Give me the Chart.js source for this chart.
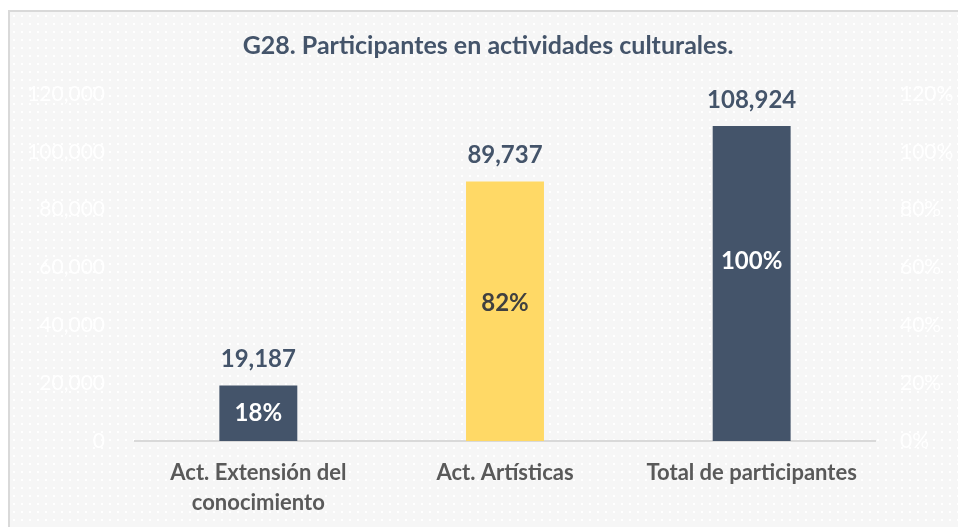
<!DOCTYPE html>
<html>
<head>
<meta charset="utf-8">
<script src="https://cdn.jsdelivr.net/npm/chart.js@4/dist/chart.umd.min.js"></script>
<style>
    html, body { margin: 0; padding: 0; background: #ffffff; }
    #frame {
        position: absolute; left: 8px; top: 10px; width: 960px; height: 530px;
        border: 2px solid #d9d9d9;
        background-color: #f6f6f6;
        background-image: radial-gradient(#ffffff 1px, transparent 1.2px);
        background-size: 8px 8px;
    }
    #wrap { position: absolute; left: 0; top: 0; width: 958px; height: 527px; }
</style>
</head>
<body>
<div id="frame"></div>
<div id="wrap"><canvas id="chart"></canvas></div>
<script>
const categories = [['Act. Extensión del', 'conocimiento'], 'Act. Artísticas', 'Total de participantes'];
const participants = [19187, 89737, 108924];
const shares = ['18%', '82%', '100%'];
const barColors = ['#44546a', '#ffd966', '#44546a'];
const leftTicks = [0, 20000, 40000, 60000, 80000, 100000, 120000];
const rightTicks = [0, 0.2, 0.4, 0.6, 0.8, 1.0, 1.2];

const FONT = 'Lato, "Open Sans", sans-serif';
// share labels sit a bit above the middle of the taller bars, as in the original
const shareLift = [0, 8, 22];

// Title, value labels above bars and shares inside them
const labelPlugin = {
    id: 'labels',
    afterDatasetsDraw(chart) {
        const ctx = chart.ctx;
        ctx.save();
        ctx.textAlign = 'center';
        ctx.textBaseline = 'middle';
        ctx.fillStyle = '#44546a';
        ctx.font = 'bold 25px ' + FONT;
        ctx.fillText('G28. Participantes en actividades culturales.', 488, 46);

        const meta = chart.getDatasetMeta(0);
        meta.data.forEach((bar, i) => {
            ctx.font = 'bold 24px ' + FONT;
            ctx.fillStyle = '#44546a';
            ctx.fillText(participants[i].toLocaleString('en-US'), bar.x, bar.y - 26);
            ctx.fillStyle = i === 1 ? '#404040' : '#ffffff';
            ctx.fillText(shares[i], bar.x, (bar.y + bar.base) / 2 - shareLift[i]);
        });
        ctx.restore();
    }
};

const ctx = document.getElementById('chart').getContext('2d');
new Chart(ctx, {
    type: 'bar',
    data: {
        labels: categories,
        datasets: [{
            data: participants,
            backgroundColor: barColors,
            barPercentage: 0.316,
            categoryPercentage: 1,
            yAxisID: 'y'
        }]
    },
    options: {
        responsive: true,
        maintainAspectRatio: false,
        animation: false,
        layout: { padding: { top: 94, left: 0, right: 0, bottom: 0 } },
        plugins: {
            legend: { display: false },
            tooltip: { enabled: false }
        },
        scales: {
            x: {
                grid: { display: false },
                border: { display: true, color: '#d9d9d9', width: 2 },
                ticks: {
                    color: '#595959',
                    font: { family: FONT, size: 22, weight: 'bold', lineHeight: 1.35 },
                    padding: 9,
                    maxRotation: 0,
                    autoSkip: false
                },
                afterFit(scale) { scale.height = 86; }
            },
            y: {
                position: 'left',
                min: 0,
                max: 120000,
                afterBuildTicks(scale) { scale.ticks = leftTicks.map(v => ({ value: v })); },
                grid: { display: false },
                border: { display: false },
                ticks: {
                    color: '#ffffff',
                    font: { family: FONT, size: 21 },
                    padding: 22,
                    callback: v => v.toLocaleString('en-US')
                },
                afterFit(scale) { scale.width = 135; }
            },
            y1: {
                position: 'right',
                min: 0,
                max: 1.2,
                afterBuildTicks(scale) { scale.ticks = rightTicks.map(v => ({ value: v })); },
                grid: { display: false },
                border: { display: false },
                ticks: {
                    color: '#ffffff',
                    font: { family: FONT, size: 21 },
                    padding: 17,
                    callback: v => Math.round(v * 100) + '%'
                },
                afterFit(scale) { scale.width = 83; }
            }
        }
    },
    plugins: [labelPlugin]
});
</script>
</body>
</html>
